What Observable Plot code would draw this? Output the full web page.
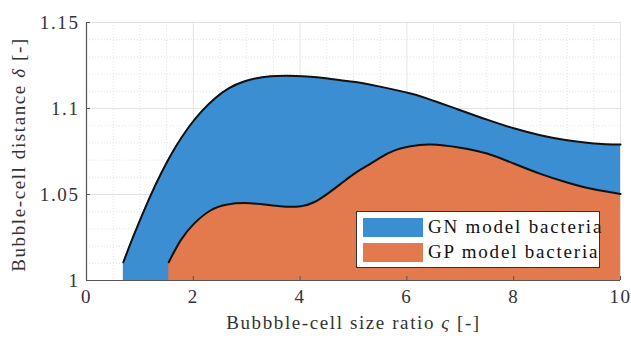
<!DOCTYPE html>
<html>
<head>
<meta charset="utf-8">
<script src="https://cdn.jsdelivr.net/npm/d3@7"></script>
<script src="https://cdn.jsdelivr.net/npm/@observablehq/plot@0.6"></script>
<style>
  html, body { margin: 0; padding: 0; background: #fff; }
  #wrap { position: relative; width: 631px; height: 340px; font-family: "Liberation Serif", serif; }
  #legend { position: absolute; left: 356px; top: 211px; width: 244px; height: 57px;
            border: 1px solid #333; background: #fff; box-sizing: border-box; }
  .sw { position: absolute; left: 6px; width: 60px; height: 19px; }
  .lt { position: absolute; left: 71px; font-size: 19px; letter-spacing: 1.8px; line-height: 19px; color: #111; white-space: nowrap; }
</style>
</head>
<body>
<div id="wrap"></div>
<script>
// ---- data ----
const seriesNames = ["GN model bacteria", "GP model bacteria"];
const seriesColors = ["#3a8ed1", "#e27a4d"];

const gnX = [0.69, 0.89, 1.17, 1.41, 1.67, 1.92, 2.16, 2.42, 2.67, 2.95, 3.45, 4.13, 4.57, 5.0, 5.45, 6.07, 6.5, 7.0, 7.5, 8.0, 8.5, 9.0, 9.5, 10];
const gnY = [1.0106, 1.0266, 1.0473, 1.0631, 1.0777, 1.0894, 1.0985, 1.1063, 1.1118, 1.1157, 1.1187, 1.1186, 1.1172, 1.1155, 1.113, 1.1087, 1.1045, 1.099, 1.0935, 1.0885, 1.0845, 1.0815, 1.0797, 1.079];

const gpX = [1.54, 1.76, 2.01, 2.32, 2.64, 3.07, 3.63, 4.01, 4.26, 4.51, 4.76, 5.01, 5.26, 5.51, 5.76, 6.07, 6.45, 7.0, 7.5, 8.0, 8.5, 9.0, 9.5, 10];
const gpY = [1.0106, 1.0232, 1.0329, 1.0407, 1.0442, 1.0449, 1.0432, 1.0432, 1.0455, 1.0504, 1.0562, 1.062, 1.0668, 1.0716, 1.0755, 1.078, 1.079, 1.0772, 1.0738, 1.068, 1.062, 1.057, 1.053, 1.0503];

const xTicks = [0, 2, 4, 6, 8, 10];
const yTicks = [1, 1.05, 1.1, 1.15];
const xLabel = "Bubbble-cell size ratio ς [-]";
const yLabel = "Bubble-cell distance δ [-]";

// ---- build ----
const gn = gnX.map((x, i) => ({x, y: gnY[i]}));
const gp = gpX.map((x, i) => ({x, y: gpY[i]}));
const minorX = d3.range(0, 10.001, 0.5).filter(v => !xTicks.includes(v));
const minorY = d3.range(0, 16).map(i => +(1 + i * 0.01).toFixed(2)).filter(v => !yTicks.includes(v));

const gridCol = "#e3e3e3";
const axisCol = "#555";
const curve = "natural";

const chart = Plot.plot({
  width: 631,
  height: 340,
  marginTop: 22,
  marginRight: 11,
  marginBottom: 60,
  marginLeft: 86,
  style: {fontFamily: "'Liberation Serif', serif", fontSize: "19px", letterSpacing: "1.6px", color: "#222", background: "#fff", overflow: "visible"},
  x: {domain: [0, 10]},
  y: {domain: [1, 1.15]},
  marks: [
    Plot.gridX(minorX, {stroke: gridCol, strokeOpacity: 1, strokeDasharray: "1,2"}),
    Plot.gridY(minorY, {stroke: gridCol, strokeOpacity: 1, strokeDasharray: "1,2"}),
    Plot.gridX(xTicks, {stroke: gridCol, strokeOpacity: 1}),
    Plot.gridY(yTicks, {stroke: gridCol, strokeOpacity: 1}),
    Plot.areaY(gn, {x: "x", y1: 1, y2: "y", fill: seriesColors[0], curve}),
    Plot.areaY(gp, {x: "x", y1: 1, y2: "y", fill: seriesColors[1], curve}),
    Plot.lineY(gn, {x: "x", y: "y", stroke: "#111", strokeWidth: 2, curve}),
    Plot.lineY(gp, {x: "x", y: "y", stroke: "#111", strokeWidth: 2, curve}),
    Plot.ruleX([0], {stroke: axisCol, strokeWidth: 1.2}),
    Plot.ruleY([1], {stroke: axisCol, strokeWidth: 1.2}),
    Plot.axisX({ticks: xTicks, tickSize: 0, tickPadding: 9, label: null, tickFormat: d => String(d), fill: "#333"}),
    Plot.axisY({ticks: yTicks, tickSize: 0, tickPadding: 7, label: null, tickFormat: d => String(d), fill: "#333"}),
    Plot.axisY({ticks: yTicks, tickSize: 4, dx: 4, label: null, tickFormat: () => "", stroke: axisCol}),
    Plot.axisX({ticks: xTicks, tickSize: 4, dy: -4, label: null, tickFormat: () => "", stroke: axisCol}),
    Plot.text([xLabel], {frameAnchor: "bottom", textAnchor: "middle", lineAnchor: "middle", dy: 42, fill: "#333"}),
    Plot.text([yLabel], {frameAnchor: "left", textAnchor: "middle", lineAnchor: "middle", rotate: -90, dx: -68, dy: 3, fill: "#333"})
  ]
});

// italicise the Greek symbols
chart.querySelectorAll("text").forEach(t => {
  const s = t.textContent;
  if ((s === yLabel || s === xLabel) && t.children.length === 0) {
    const sym = s === yLabel ? "δ" : "ς";
    const [a, b] = s.split(sym);
    t.textContent = "";
    const ns = "http://www.w3.org/2000/svg";
    const t1 = document.createElementNS(ns, "tspan"); t1.textContent = a;
    const t2 = document.createElementNS(ns, "tspan"); t2.textContent = sym; t2.setAttribute("font-style", "italic");
    const t3 = document.createElementNS(ns, "tspan"); t3.textContent = b;
    t.append(t1, t2, t3);
  }
});

const wrap = document.getElementById("wrap");
wrap.appendChild(chart);
chart.style.position = "absolute";
chart.style.left = "0px";
chart.style.top = "0px";

// legend
const legend = document.createElement("div");
legend.id = "legend";
seriesNames.forEach((name, i) => {
  const sw = document.createElement("div");
  sw.className = "sw";
  sw.style.top = (6 + i * 25) + "px";
  sw.style.background = seriesColors[i];
  const lt = document.createElement("div");
  lt.className = "lt";
  lt.style.top = (5 + i * 25) + "px";
  lt.textContent = name;
  legend.append(sw, lt);
});
wrap.appendChild(legend);
</script>
</body>
</html>
